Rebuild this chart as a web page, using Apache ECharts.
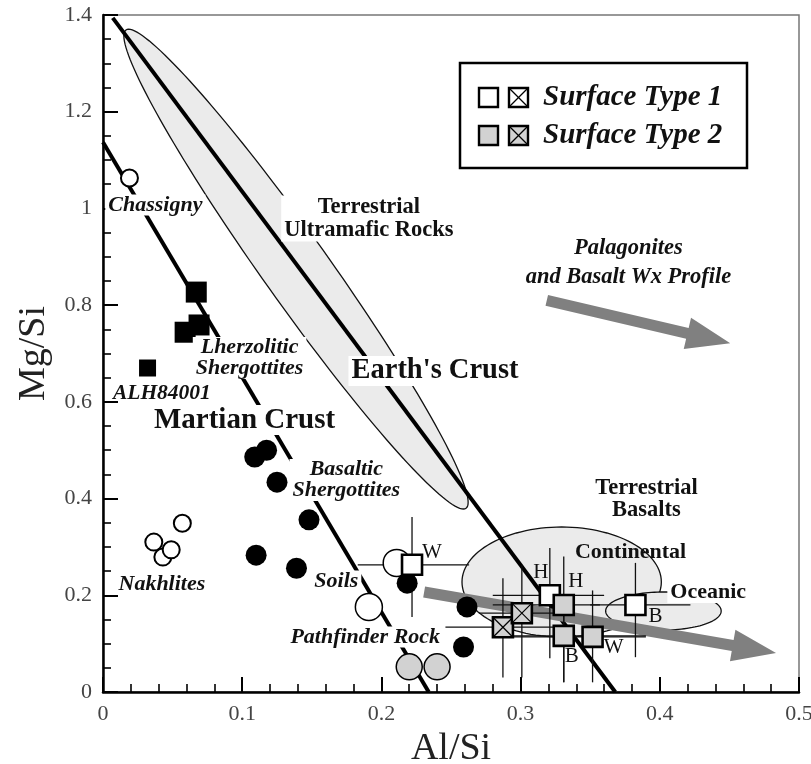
<!DOCTYPE html>
<html><head><meta charset="utf-8">
<script src="https://cdn.jsdelivr.net/npm/echarts@6/dist/echarts.min.js"></script>
<style>html,body{margin:0;padding:0;background:#fff}#c{width:811px;height:764px}</style>
</head><body><div id="c"></div>
<script>
// ================= DATA =================
const xTickValues = [0, 0.1, 0.2, 0.3, 0.4, 0.5];
const yTickValues = [0, 0.2, 0.4, 0.6, 0.8, 1, 1.2, 1.4];

// Martian meteorites and Pathfinder data [Al/Si, Mg/Si]
const chassigny = [[0.019, 1.063]];
const lherzolitic = [[0.067, 0.827], [0.059, 0.744], [0.069, 0.759]];
const alh84001 = [[0.032, 0.670]];
const nakhlites = [[0.0365, 0.310], [0.043, 0.279], [0.049, 0.294], [0.057, 0.349]];
const basaltic = [[0.109, 0.486], [0.1175, 0.500], [0.125, 0.434], [0.148, 0.356], [0.110, 0.283], [0.139, 0.256]];
const soilsOpen = [[0.211, 0.267], [0.191, 0.176]];
const soilsFilled = [[0.2185, 0.225], [0.2615, 0.176], [0.259, 0.093]];
const pathfinderRock = [[0.220, 0.052], [0.240, 0.052]];

// Pathfinder sites: [x, y, xLow, xHigh, yLow, yHigh]
const type1Sites = [[0.222, 0.263, 0.183, 0.263, 0.155, 0.362], [0.321, 0.200, 0.280, 0.360, 0.070, 0.298], [0.3825, 0.180, 0.350, 0.422, 0.072, 0.267]];
const type1Labels = ['W', 'H', 'B'];
const type2Sites = [[0.331, 0.180, 0.280, 0.357, 0.020, 0.280], [0.331, 0.116, 0.290, 0.390, 0.020, 0.200], [0.3517, 0.114, 0.290, 0.390, 0.020, 0.210]];
const type2Labels = ['H', 'B', 'W'];
const type2CrossedSites = [[0.2873, 0.134, 0.246, 0.326, 0.030, 0.235], [0.3009, 0.163, 0.270, 0.330, 0.030, 0.262]];

// Trend lines [x, y] end points
const earthCrustLine = [[0.007, 1.394], [0.368, 0]];
const martianCrustLine = [[0, 1.137], [0.234, 0]];

// Regions
const earthCrustRegion = [[0.0165, 1.369, 0.2608, 0.380]];   // major-axis tips
const continentalRegion = [[0.3295, 0.2275, 0.0716, 0.1137]]; // cx, cy, rx, ry
const oceanicRegion = [[0.4026, 0.1675, 0.0415, 0.0393]];

// Arrows [x1, y1, x2, y2]
const trendArrows = [[0.3188, 0.8099, 0.4506, 0.7210], [0.2307, 0.2068, 0.4835, 0.0806]];

// Annotation texts and anchor points
const annotationTexts = ['Terrestrial\nUltramafic Rocks', "Earth's Crust", 'Martian Crust', 'Chassigny', 'Lherzolitic\nShergottites', 'ALH84001', 'Basaltic\nShergottites', 'Nakhlites', 'Soils', 'Pathfinder Rock', 'Terrestrial\nBasalts', 'Continental', 'Oceanic', 'Palagonites\nand Basalt Wx Profile'];
const annotationPoints = [[0.191, 0.979], [0.2385, 0.664], [0.1017, 0.5624], [0.0376, 1.007], [0.1053, 0.6907], [0.0423, 0.6183], [0.1748, 0.4384], [0.0423, 0.2233], [0.1676, 0.2295], [0.1884, 0.1137], [0.3904, 0.3991], [0.379, 0.2895], [0.4348, 0.2068], [0.3775, 0.8881]];

// ================= STYLE =================
const SERIF = "'Liberation Serif','DejaVu Serif',serif";
const GRAYFILL = '#d2d2d2';
const REGIONFILL = '#ebebeb';
const styleBU = (s) => 'bold ' + s + 'px ' + SERIF;
const styleBI = (s) => 'italic bold ' + s + 'px ' + SERIF;
const annotationStyles = [
  {font: styleBU(22.5), lh: 23, bg: true},
  {font: styleBU(28.5), lh: 30, bg: true},
  {font: styleBU(29), lh: 30, bg: true},
  {font: styleBI(22), lh: 21, bg: true},
  {font: styleBI(22), lh: 21, bg: true},
  {font: styleBI(21.5), lh: 21, bg: false},
  {font: styleBI(22), lh: 21, bg: true},
  {font: styleBI(22), lh: 21, bg: false},
  {font: styleBI(22), lh: 21, bg: true},
  {font: styleBI(22), lh: 21, bg: true},
  {font: styleBU(22.5), lh: 22, bg: false},
  {font: styleBU(22), lh: 22, bg: false},
  {font: styleBU(22), lh: 22, bg: true},
  {font: styleBI(22.5), lh: 29, bg: false}
];
const type1LabelOffsets = [[20, -12], [-9, -23], [20, 12]];
const type2LabelOffsets = [[12, -23], [8, 21], [21, 11]];
const SQ = 20;
const EARTH_HALF_WIDTH = 33;

// ================= RENDERERS =================
function renderRotEllipse(params, api) {
  const p1 = api.coord([api.value(0), api.value(1)]);
  const p2 = api.coord([api.value(2), api.value(3)]);
  const cx = (p1[0] + p2[0]) / 2, cy = (p1[1] + p2[1]) / 2;
  const dx = p2[0] - p1[0], dy = p2[1] - p1[1];
  const a = Math.hypot(dx, dy) / 2, ang = Math.atan2(dy, dx), b = EARTH_HALF_WIDTH;
  const pts = [];
  for (let i = 0; i < 160; i++) {
    const t = i / 160 * 2 * Math.PI;
    const ex = a * Math.cos(t), ey = b * Math.sin(t);
    pts.push([cx + ex * Math.cos(ang) - ey * Math.sin(ang), cy + ex * Math.sin(ang) + ey * Math.cos(ang)]);
  }
  return {type: 'polygon', shape: {points: pts}, style: {fill: REGIONFILL, stroke: '#111', lineWidth: 1.3}};
}
function renderEllipse(params, api) {
  const c = api.coord([api.value(0), api.value(1)]);
  const s = api.size([api.value(2), api.value(3)]);
  const pts = [];
  for (let i = 0; i < 120; i++) {
    const t = i / 120 * 2 * Math.PI;
    pts.push([c[0] + s[0] * Math.cos(t), c[1] + s[1] * Math.sin(t)]);
  }
  return {type: 'polygon', shape: {points: pts}, style: {fill: REGIONFILL, stroke: '#111', lineWidth: 1.3}};
}
function renderArrow(params, api) {
  const p1 = api.coord([api.value(0), api.value(1)]);
  const p2 = api.coord([api.value(2), api.value(3)]);
  const dx = p2[0] - p1[0], dy = p2[1] - p1[1];
  const L = Math.hypot(dx, dy), ux = dx / L, uy = dy / L, nx = -uy, ny = ux;
  const sw = 5.5, hw = 16, hl = 44;
  const bx = p2[0] - ux * hl, by = p2[1] - uy * hl;
  const pts = [
    [p1[0] + nx * sw, p1[1] + ny * sw], [bx + nx * sw, by + ny * sw], [bx + nx * hw, by + ny * hw],
    p2, [bx - nx * hw, by - ny * hw], [bx - nx * sw, by - ny * sw], [p1[0] - nx * sw, p1[1] - ny * sw]
  ];
  return {type: 'polygon', shape: {points: pts}, style: {fill: '#808080', stroke: null}};
}
function renderErrorBars(params, api) {
  const y = api.value(1), x = api.value(0);
  const h1 = api.coord([api.value(2), y]), h2 = api.coord([api.value(3), y]);
  const v1 = api.coord([x, api.value(4)]), v2 = api.coord([x, api.value(5)]);
  const st = {stroke: '#111', lineWidth: 1.3};
  return {type: 'group', children: [
    {type: 'line', shape: {x1: h1[0], y1: h1[1], x2: h2[0], y2: h2[1]}, style: st},
    {type: 'line', shape: {x1: v1[0], y1: v1[1], x2: v2[0], y2: v2[1]}, style: st}
  ]};
}
function makeSquareRenderer(fill, crossed, labels, offsets) {
  return function (params, api) {
    const c = api.coord([api.value(0), api.value(1)]);
    const h = SQ / 2;
    const children = [{type: 'rect', shape: {x: c[0] - h, y: c[1] - h, width: SQ, height: SQ}, style: {fill: fill, stroke: '#000', lineWidth: 2.6}}];
    if (crossed) {
      const st = {stroke: '#000', lineWidth: 1.2};
      children.push({type: 'line', shape: {x1: c[0] - h, y1: c[1] - h, x2: c[0] + h, y2: c[1] + h}, style: st});
      children.push({type: 'line', shape: {x1: c[0] + h, y1: c[1] - h, x2: c[0] - h, y2: c[1] + h}, style: st});
    }
    if (labels) {
      const o = offsets[params.dataIndex];
      children.push({type: 'text', x: c[0] + o[0], y: c[1] + o[1], style: {text: labels[params.dataIndex], font: '21px ' + SERIF, fill: '#111', align: 'center', verticalAlign: 'middle'}});
    }
    return {type: 'group', children: children};
  };
}
function renderAnnotation(params, api) {
  const c = api.coord([api.value(0), api.value(1)]);
  const st = annotationStyles[params.dataIndex];
  const style = {text: annotationTexts[params.dataIndex], font: st.font, lineHeight: st.lh, fill: '#111', align: 'center', verticalAlign: 'middle'};
  if (st.bg) { style.backgroundColor = '#fff'; style.padding = [0, 3]; }
  return {type: 'text', x: c[0], y: c[1], style: style};
}

// ================= CHART =================
const chart = echarts.init(document.getElementById('c'), null, {renderer: 'canvas'});
const majorAxis = {
  type: 'value',
  axisLine: {show: true, onZero: false, lineStyle: {color: '#000', width: 2.5}},
  axisTick: {show: true, inside: true, length: 15, lineStyle: {color: '#000', width: 2}},
  splitLine: {show: false},
  axisLabel: {color: '#444', fontSize: 22, fontFamily: SERIF, margin: 11},
  nameTextStyle: {color: '#222', fontSize: 38, fontFamily: SERIF}
};
const minorAxis = {
  type: 'value',
  axisLine: {show: false, onZero: false},
  axisTick: {show: true, inside: true, length: 8, lineStyle: {color: '#000', width: 1.6}},
  splitLine: {show: false},
  axisLabel: {show: false}
};
const scatterBase = (name, data, symbol, size, fill, border, bw, z) => ({
  name: name, type: 'scatter', data: data, symbol: symbol, symbolSize: size, z: z,
  itemStyle: {color: fill, borderColor: border, borderWidth: bw, opacity: 1}, emphasis: {disabled: true}, silent: true
});
const xMin = xTickValues[0], xMax = xTickValues[xTickValues.length - 1];
const yMin = yTickValues[0], yMax = yTickValues[yTickValues.length - 1];
const gridBox = {left: 103, right: 12, top: 15, bottom: 72, containLabel: false, outerBoundsMode: 'none'};

chart.setOption({
  animation: false,
  backgroundColor: '#fff',
  grid: [
    Object.assign({show: true, borderColor: '#777', borderWidth: 1.5}, gridBox),
    Object.assign({show: false}, gridBox)
  ],
  xAxis: [
    Object.assign({}, majorAxis, {gridIndex: 0, min: xMin, max: xMax, interval: 0.1, position: 'bottom', name: 'Al/Si', nameLocation: 'middle', nameGap: 36}),
    Object.assign({}, minorAxis, {gridIndex: 1, min: xMin, max: xMax, interval: 0.02, position: 'bottom'})
  ],
  yAxis: [
    Object.assign({}, majorAxis, {gridIndex: 0, min: yMin, max: yMax, interval: 0.2, position: 'left', name: 'Mg/Si', nameLocation: 'middle', nameGap: 50}),
    Object.assign({}, minorAxis, {gridIndex: 1, min: yMin, max: yMax, interval: 0.05, position: 'left'})
  ],
  series: [
    {name: "Earth's Crust region", type: 'custom', renderItem: renderRotEllipse, data: earthCrustRegion, z: 1, silent: true},
    {name: 'Continental', type: 'custom', renderItem: renderEllipse, data: continentalRegion, z: 1, silent: true},
    {name: 'Oceanic', type: 'custom', renderItem: renderEllipse, data: oceanicRegion, z: 1, silent: true},
    {name: "Earth's Crust line", type: 'line', data: earthCrustLine, symbol: 'none', z: 2, lineStyle: {color: '#000', width: 4}, silent: true},
    {name: 'Martian Crust line', type: 'line', data: martianCrustLine, symbol: 'none', z: 2, lineStyle: {color: '#000', width: 4}, silent: true},
    {name: 'Trends', type: 'custom', renderItem: renderArrow, data: trendArrows, z: 3, silent: true},
    {name: 'Type 1 errors', type: 'custom', renderItem: renderErrorBars, data: type1Sites, z: 4, silent: true},
    {name: 'Type 2 errors', type: 'custom', renderItem: renderErrorBars, data: type2Sites.concat(type2CrossedSites), z: 4, silent: true},
    scatterBase('Chassigny', chassigny, 'circle', 17, '#fff', '#000', 2, 5),
    scatterBase('Nakhlites', nakhlites, 'circle', 17, '#fff', '#000', 2, 5),
    scatterBase('Lherzolitic Shergottites', lherzolitic, 'rect', 21, '#000', '#000', 0, 5),
    scatterBase('ALH84001', alh84001, 'rect', 17, '#000', '#000', 0, 5),
    scatterBase('Basaltic Shergottites', basaltic, 'circle', 21, '#000', '#000', 0, 5),
    scatterBase('Soils (open)', soilsOpen, 'circle', 27, '#fff', '#000', 1.5, 5),
    scatterBase('Soils', soilsFilled, 'circle', 21, '#000', '#000', 0, 5),
    scatterBase('Pathfinder Rock', pathfinderRock, 'circle', 26, GRAYFILL, '#000', 1.5, 5),
    {name: 'Surface Type 1', type: 'custom', renderItem: makeSquareRenderer('#fff', false, type1Labels, type1LabelOffsets), data: type1Sites, z: 6, silent: true},
    {name: 'Surface Type 2', type: 'custom', renderItem: makeSquareRenderer(GRAYFILL, false, type2Labels, type2LabelOffsets), data: type2Sites, z: 6, silent: true},
    {name: 'Surface Type 2 (crossed)', type: 'custom', renderItem: makeSquareRenderer(GRAYFILL, true, null, null), data: type2CrossedSites, z: 6, silent: true},
    {name: 'Annotations', type: 'custom', renderItem: renderAnnotation, data: annotationPoints, z: 7, silent: true}
  ],
  graphic: [
    {type: 'rect', z: 100, shape: {x: 460, y: 63, width: 287, height: 105}, style: {fill: '#fff', stroke: '#000', lineWidth: 2.5}},
    {type: 'rect', z: 101, shape: {x: 479, y: 88, width: 19, height: 19}, style: {fill: '#fff', stroke: '#000', lineWidth: 2.4}},
    {type: 'rect', z: 101, shape: {x: 509, y: 88, width: 19, height: 19}, style: {fill: '#fff', stroke: '#000', lineWidth: 2.4}},
    {type: 'line', z: 102, shape: {x1: 509, y1: 88, x2: 528, y2: 107}, style: {stroke: '#000', lineWidth: 1.2}},
    {type: 'line', z: 102, shape: {x1: 528, y1: 88, x2: 509, y2: 107}, style: {stroke: '#000', lineWidth: 1.2}},
    {type: 'text', z: 101, x: 543, y: 98, style: {text: 'Surface Type 1', font: 'italic bold 29px ' + SERIF, fill: '#111', verticalAlign: 'middle'}},
    {type: 'rect', z: 101, shape: {x: 479, y: 126, width: 19, height: 19}, style: {fill: GRAYFILL, stroke: '#000', lineWidth: 2.4}},
    {type: 'rect', z: 101, shape: {x: 509, y: 126, width: 19, height: 19}, style: {fill: GRAYFILL, stroke: '#000', lineWidth: 2.4}},
    {type: 'line', z: 102, shape: {x1: 509, y1: 126, x2: 528, y2: 145}, style: {stroke: '#000', lineWidth: 1.2}},
    {type: 'line', z: 102, shape: {x1: 528, y1: 126, x2: 509, y2: 145}, style: {stroke: '#000', lineWidth: 1.2}},
    {type: 'text', z: 101, x: 543, y: 136, style: {text: 'Surface Type 2', font: 'italic bold 29px ' + SERIF, fill: '#111', verticalAlign: 'middle'}}
  ]
});
</script>
</body></html>
